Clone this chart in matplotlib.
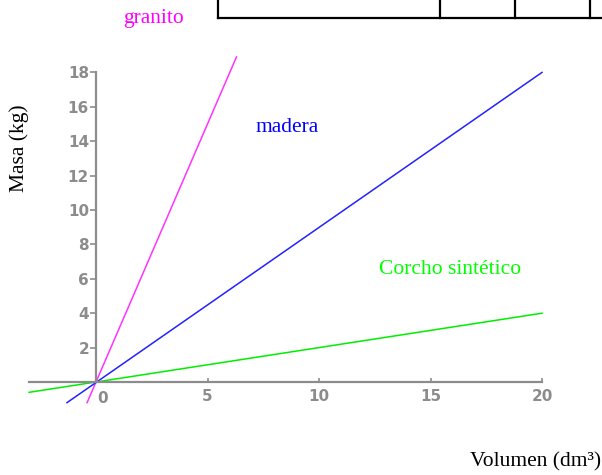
import matplotlib
matplotlib.use("Agg")
import matplotlib.pyplot as plt
from matplotlib.lines import Line2D

# Data (line endpoints)
granito_x = [-0.4, 6.3]
granito_y = [-1.2, 18.9]
madera_x = [-1.3, 20.0]
madera_y = [-1.2, 18.0]
corcho_x = [-3.0, 20.0]
corcho_y = [-0.6, 4.0]

x_ticks = [5, 10, 15, 20]
y_ticks = [2, 4, 6, 8, 10, 12, 14, 16, 18]

W, H = 602, 475
fig = plt.figure(figsize=(W / 100, H / 100), dpi=100)
ax = fig.add_axes([0, 0, 1, 1])

# pixel mapping: x px = 96 + 22.3*x ; y px(from top) = 382 - 17.2*y
x0, sx = 96.0, 22.3
y0, sy = 382.0, 17.2
ax.set_xlim(-x0 / sx, (W - x0) / sx)
ax.set_ylim(-(H - y0) / sy, y0 / sy)

gray = "#8c8c8c"
for s in ["top", "right"]:
    ax.spines[s].set_visible(False)
ax.spines["left"].set_position(("data", 0))
ax.spines["bottom"].set_position(("data", 0))
ax.spines["left"].set_bounds(0, 18)
ax.spines["bottom"].set_bounds(-3.0, 20)
for s in ["left", "bottom"]:
    ax.spines[s].set_color(gray)
    ax.spines[s].set_linewidth(1.6)

ax.set_xticks(x_ticks)
ax.set_yticks(y_ticks)
ax.tick_params(axis="x", direction="in", length=3, width=1.2, color=gray,
               labelcolor=gray, labelsize=11, pad=5)
ax.tick_params(axis="y", direction="out", length=4, width=1.2, color=gray,
               labelcolor=gray, labelsize=11, pad=1)
for lab in ax.get_xticklabels() + ax.get_yticklabels():
    lab.set_fontweight("bold")
ax.text(0.05, -0.5, "0", color=gray, fontsize=11, fontweight="bold",
        ha="left", va="top")

ax.plot(granito_x, granito_y, color="#ff33ff", lw=1.1)
ax.plot(madera_x, madera_y, color="#2222ff", lw=1.1)
ax.plot(corcho_x, corcho_y, color="#00ee00", lw=1.1)

serif = "Liberation Serif"
fs = 15.5
fig.text(154 / W, 1 - 18 / H, "granito", color="#ff00ff", fontsize=fs,
         family=serif, ha="center", va="center")
fig.text(287 / W, 1 - 128 / H, "madera", color="#0000ff", fontsize=fs,
         family=serif, ha="center", va="center")
fig.text(450 / W, 1 - 270 / H, "Corcho sintético", color="#00ff00",
         fontsize=fs, family=serif, ha="center", va="center")
fig.text(19 / W, 1 - 148 / H, "Masa (kg)", color="black", fontsize=fs,
         family=serif, rotation=90, ha="center", va="center")
fig.text(536 / W, 1 - 462 / H, "Volumen (dm³)", color="black", fontsize=fs,
         family=serif, ha="center", va="center")

# table fragment at top
def pxline(xs, ys):
    fig.add_artist(Line2D([x / W for x in xs], [1 - y / H for y in ys],
                          color="black", lw=1.6, transform=fig.transFigure))

pxline([218, 602], [18, 18])
for xv in [218, 440, 515, 590]:
    pxline([xv, xv], [0, 18])

fig.savefig("out.png", dpi=100)
